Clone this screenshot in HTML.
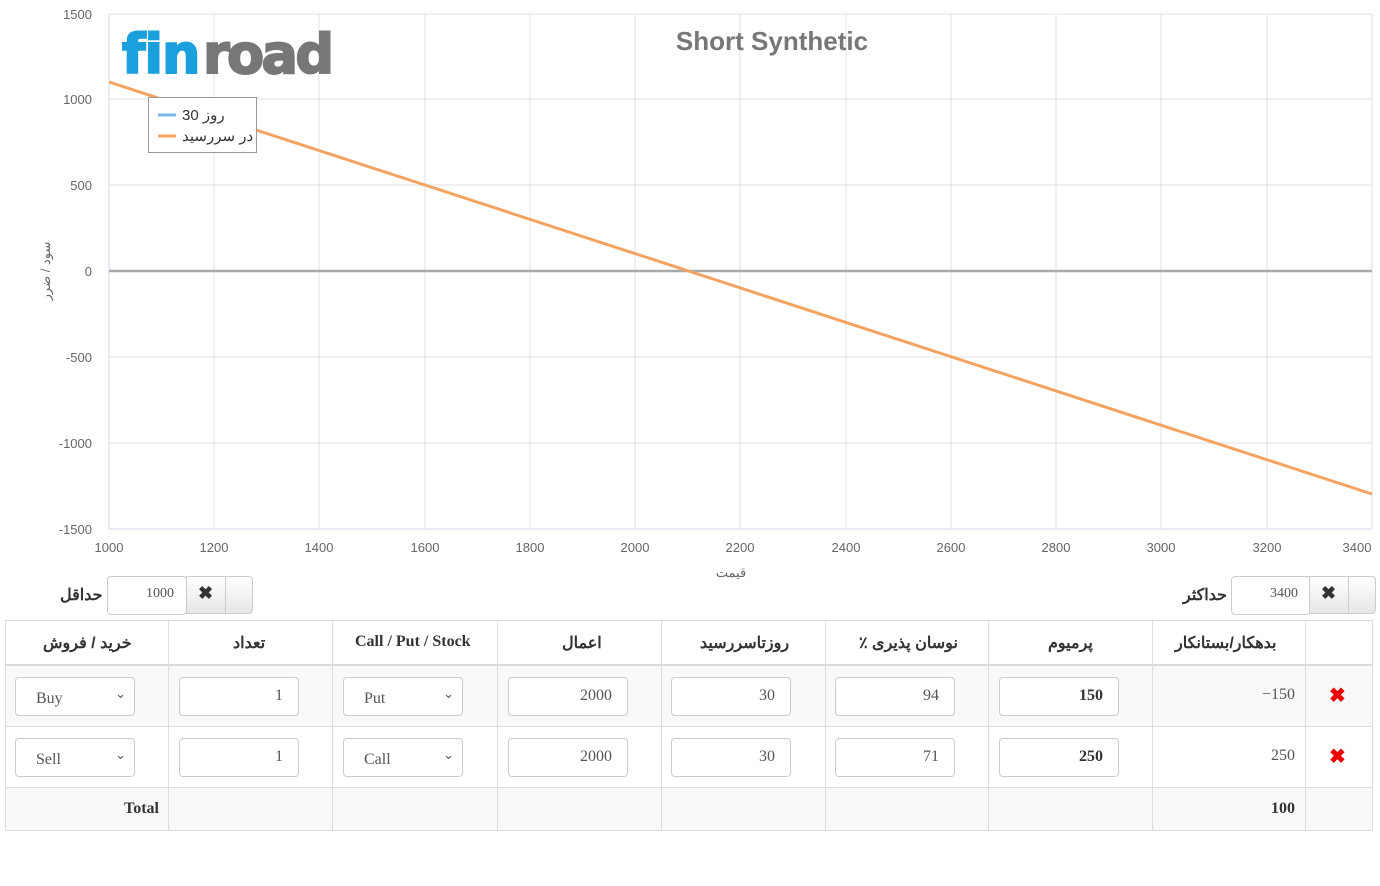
<!DOCTYPE html>
<html><head><meta charset="utf-8">
<style>
body{margin:0;width:1380px;height:886px;background:#fff;position:relative;overflow:hidden;font-family:"Liberation Serif",serif;}
.a{position:absolute}
.fa{font-family:"Liberation Sans","Noto Sans CJK SC",sans-serif;}
.inp{position:absolute;border:1px solid #ccc;border-radius:4px;background:#fff;box-sizing:border-box;height:39px;font-size:16px;color:#555}
</style></head><body>
<svg class="a" style="left:0;top:0" width="1380" height="600">
<g stroke="#e0e0e0" stroke-width="1">
<line x1="109" y1="14" x2="1372" y2="14"/><line x1="109" y1="99" x2="1372" y2="99"/><line x1="109" y1="185" x2="1372" y2="185"/><line x1="109" y1="357" x2="1372" y2="357"/><line x1="109" y1="443" x2="1372" y2="443"/>
<line x1="214" y1="14" x2="214" y2="529"/><line x1="319" y1="14" x2="319" y2="529"/><line x1="425" y1="14" x2="425" y2="529"/><line x1="530" y1="14" x2="530" y2="529"/><line x1="635" y1="14" x2="635" y2="529"/><line x1="740" y1="14" x2="740" y2="529"/><line x1="846" y1="14" x2="846" y2="529"/><line x1="951" y1="14" x2="951" y2="529"/><line x1="1056" y1="14" x2="1056" y2="529"/><line x1="1161" y1="14" x2="1161" y2="529"/><line x1="1267" y1="14" x2="1267" y2="529"/><line x1="1372" y1="14" x2="1372" y2="529"/>
</g>
<line x1="109" y1="14" x2="109" y2="529" stroke="#ccd6eb"/>
<line x1="109" y1="529" x2="1372" y2="529" stroke="#ccd6eb"/>
<line x1="109" y1="271" x2="1372" y2="271" stroke="#aaa" stroke-width="2.5"/>
<line x1="109" y1="82" x2="1372" y2="494" stroke="#f4a460" stroke-width="3"/>
<g font-family="Liberation Sans" font-size="13" fill="#666" text-anchor="end">
<text x="92" y="19">1500</text><text x="92" y="104">1000</text><text x="92" y="190">500</text><text x="92" y="276">0</text><text x="92" y="362">-500</text><text x="92" y="448">-1000</text><text x="92" y="534">-1500</text>
</g>
<g font-family="Liberation Sans" font-size="13" fill="#666" text-anchor="middle">
<text x="109" y="552">1000</text><text x="214" y="552">1200</text><text x="319" y="552">1400</text><text x="425" y="552">1600</text><text x="530" y="552">1800</text><text x="635" y="552">2000</text><text x="740" y="552">2200</text><text x="846" y="552">2400</text><text x="951" y="552">2600</text><text x="1056" y="552">2800</text><text x="1161" y="552">3000</text><text x="1267" y="552">3200</text><text x="1357" y="552">3400</text>
<text x="731" y="577">قیمت</text>
</g>
<text x="0" y="0" transform="translate(50,271) rotate(-90)" font-family="Liberation Sans,Noto Sans CJK SC" font-size="13" fill="#666" text-anchor="middle">سود / ضرر</text>
<text x="772" y="50" font-family="Liberation Sans" font-weight="bold" font-size="26" fill="#777" text-anchor="middle">Short Synthetic</text>
<text x="122" y="73" font-family="DejaVu Sans" font-weight="bold" font-size="54" fill="#1aa0dc" stroke="#1aa0dc" stroke-width="2" letter-spacing="-1">fin</text>
<text x="203" y="73" font-family="DejaVu Sans" font-weight="bold" font-size="54" fill="#777" stroke="#777" stroke-width="2" letter-spacing="-1" textLength="130">road</text>
<rect x="148.5" y="97.5" width="108" height="55" fill="#fff" stroke="#999"/>
<line x1="158" y1="115" x2="176" y2="115" stroke="#7cb5ec" stroke-width="3"/>
<line x1="158" y1="136" x2="176" y2="136" stroke="#f4a460" stroke-width="3"/>
<text x="182" y="120" font-family="Liberation Sans,Noto Sans CJK SC" font-size="15" fill="#333">روز 30</text>
<text x="182" y="141" font-family="Liberation Sans,Noto Sans CJK SC" font-size="15" fill="#333">در سررسید</text>
</svg>

<div class="a fa" style="left:60px;top:585px;font-size:16px;font-weight:bold;color:#333">حداقل</div>
<div class="inp" style="left:107px;top:576px;width:80px;text-align:right;padding:9px 12px 0 0;font-size:14px">1000</div>
<div class="a" style="left:186px;top:576px;width:65px;height:36px;border:1px solid #ccc;border-radius:0 4px 4px 0;background:linear-gradient(#fff,#e6e6e6)"></div>
<div class="a" style="left:225px;top:576px;width:1px;height:38px;background:#ccc"></div>
<div class="a" style="left:198px;top:583px;font-size:18px;font-weight:bold;color:#333">✖</div>

<div class="a fa" style="left:1183px;top:585px;font-size:16px;font-weight:bold;color:#333">حداکثر</div>
<div class="inp" style="left:1231px;top:576px;width:80px;text-align:right;padding:9px 12px 0 0;font-size:14px">3400</div>
<div class="a" style="left:1309px;top:576px;width:65px;height:36px;border:1px solid #ccc;border-radius:0 4px 4px 0;background:linear-gradient(#fff,#e6e6e6)"></div>
<div class="a" style="left:1348px;top:576px;width:1px;height:38px;background:#ccc"></div>
<div class="a" style="left:1321px;top:583px;font-size:18px;font-weight:bold;color:#333">✖</div>

<div class="a" style="left:5px;top:665px;width:1368px;height:61px;background:#f9f9f9"></div>
<div class="a" style="left:5px;top:787px;width:1368px;height:44px;background:#f9f9f9"></div>
<div class="a" style="left:5px;top:620px;width:1368px;height:211px;border:1px solid #ddd;box-sizing:border-box"></div>
<div class="a" style="left:5px;top:664px;width:1368px;height:2px;background:#ddd"></div>
<div class="a" style="left:5px;top:726px;width:1368px;height:1px;background:#ddd"></div>
<div class="a" style="left:5px;top:787px;width:1368px;height:1px;background:#ddd"></div>
<div class="a" style="left:168px;top:620px;width:1px;height:211px;background:#ddd"></div>
<div class="a" style="left:332px;top:620px;width:1px;height:211px;background:#ddd"></div>
<div class="a" style="left:497px;top:620px;width:1px;height:211px;background:#ddd"></div>
<div class="a" style="left:661px;top:620px;width:1px;height:211px;background:#ddd"></div>
<div class="a" style="left:825px;top:620px;width:1px;height:211px;background:#ddd"></div>
<div class="a" style="left:988px;top:620px;width:1px;height:211px;background:#ddd"></div>
<div class="a" style="left:1152px;top:620px;width:1px;height:211px;background:#ddd"></div>
<div class="a" style="left:1305px;top:620px;width:1px;height:211px;background:#ddd"></div>

<div class="a fa" style="top:633px;font-size:16px;font-weight:bold;color:#333;width:100%">
<span class="a" style="left:43px;white-space:nowrap">خرید / فروش</span>
<span class="a" style="left:233px">تعداد</span>
<span class="a" style="left:355px;font-family:'Liberation Serif';white-space:nowrap">Call / Put / Stock</span>
<span class="a" style="left:562px">اعمال</span>
<span class="a" style="left:700px">روزتاسررسید</span>
<span class="a" style="left:859px;white-space:nowrap">٪ نوسان پذیری</span>
<span class="a" style="left:1048px">پرمیوم</span>
<span class="a" style="left:1175px;white-space:nowrap">بدهکار/بستانکار</span>
</div>

<div class="inp" style="left:15px;top:677px;width:120px;padding:12px 0 0 20px">Buy<span class="a" style="right:8px;top:8px;font-size:13px">&#8964;</span></div>
<div class="inp" style="left:179px;top:677px;width:120px;text-align:right;padding:9px 15px 0 0">1</div>
<div class="inp" style="left:343px;top:677px;width:120px;padding:12px 0 0 20px">Put<span class="a" style="right:8px;top:8px;font-size:13px">&#8964;</span></div>
<div class="inp" style="left:508px;top:677px;width:120px;text-align:right;padding:9px 15px 0 0">2000</div>
<div class="inp" style="left:671px;top:677px;width:120px;text-align:right;padding:9px 15px 0 0">30</div>
<div class="inp" style="left:835px;top:677px;width:120px;text-align:right;padding:9px 15px 0 0">94</div>
<div class="inp" style="left:999px;top:677px;width:120px;text-align:right;padding:9px 15px 0 0;font-weight:bold;color:#333">150</div>
<div class="a" style="left:1240px;top:686px;font-size:16px;color:#555;width:55px;text-align:right">−150</div>
<div class="a" style="left:1329px;top:683px;font-size:20px;color:#e00;font-weight:bold">✖</div>

<div class="inp" style="left:15px;top:738px;width:120px;padding:12px 0 0 20px">Sell<span class="a" style="right:8px;top:8px;font-size:13px">&#8964;</span></div>
<div class="inp" style="left:179px;top:738px;width:120px;text-align:right;padding:9px 15px 0 0">1</div>
<div class="inp" style="left:343px;top:738px;width:120px;padding:12px 0 0 20px">Call<span class="a" style="right:8px;top:8px;font-size:13px">&#8964;</span></div>
<div class="inp" style="left:508px;top:738px;width:120px;text-align:right;padding:9px 15px 0 0">2000</div>
<div class="inp" style="left:671px;top:738px;width:120px;text-align:right;padding:9px 15px 0 0">30</div>
<div class="inp" style="left:835px;top:738px;width:120px;text-align:right;padding:9px 15px 0 0">71</div>
<div class="inp" style="left:999px;top:738px;width:120px;text-align:right;padding:9px 15px 0 0;font-weight:bold;color:#333">250</div>
<div class="a" style="left:1240px;top:747px;font-size:16px;color:#555;width:55px;text-align:right">250</div>
<div class="a" style="left:1329px;top:744px;font-size:20px;color:#e00;font-weight:bold">✖</div>

<div class="a" style="left:100px;top:800px;font-size:16px;font-weight:bold;color:#333;width:59px;text-align:right">Total</div>
<div class="a" style="left:1240px;top:800px;font-size:16px;font-weight:bold;color:#333;width:55px;text-align:right">100</div>
</body></html>
